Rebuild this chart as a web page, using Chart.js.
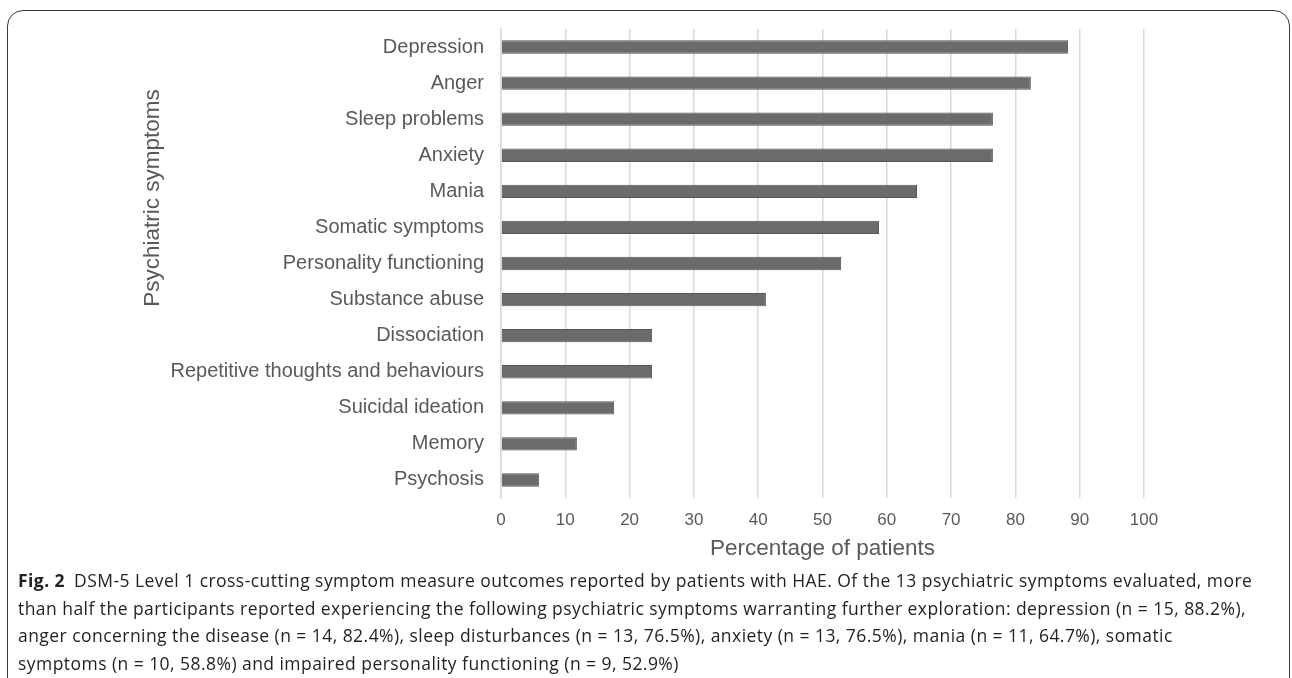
<!DOCTYPE html>
<html>
<head>
<meta charset="utf-8">
<script src="https://cdn.jsdelivr.net/npm/chart.js@4.4.1/dist/chart.umd.min.js"></script>
<style>
  html, body { margin: 0; padding: 0; background: #fff; }
  body { width: 1292px; height: 678px; position: relative; overflow: hidden; }
  .frame {
    position: absolute; left: 7px; top: 10px; width: 1283px; height: 700px;
    border: 1.5px solid #3a3a3a; border-radius: 16px; box-sizing: border-box;
  }
  .chart-box { position: absolute; left: 0; top: 0; width: 1292px; height: 572px; }
  .caption {
    position: absolute; left: 18px; top: 567px; white-space: nowrap;
    font-family: "Open Sans", "Noto Sans", sans-serif; font-size: 17.5px;
    letter-spacing: 0.45px; line-height: 27.5px; color: #231f20;
  }
  .caption b { font-weight: 700; margin-right: 4px; }
</style>
</head>
<body>
<div class="frame"></div>
<div class="chart-box"><canvas id="symptomChart"></canvas></div>
<div class="caption">
  <b>Fig. 2</b> DSM-5 Level 1 cross-cutting symptom measure outcomes reported by patients with HAE. Of the 13 psychiatric symptoms evaluated, more<br>
  than half the participants reported experiencing the following psychiatric symptoms warranting further exploration: depression (n&nbsp;=&nbsp;15, 88.2%),<br>
  anger concerning the disease (n&nbsp;=&nbsp;14, 82.4%), sleep disturbances (n&nbsp;=&nbsp;13, 76.5%), anxiety (n&nbsp;=&nbsp;13, 76.5%), mania (n&nbsp;=&nbsp;11, 64.7%), somatic<br>
  symptoms (n&nbsp;=&nbsp;10, 58.8%) and impaired personality functioning (n&nbsp;=&nbsp;9, 52.9%)
</div>
<script>
const symptoms = [
    'Depression', 'Anger', 'Sleep problems', 'Anxiety', 'Mania',
    'Somatic symptoms', 'Personality functioning', 'Substance abuse',
    'Dissociation', 'Repetitive thoughts and behaviours', 'Suicidal ideation',
    'Memory', 'Psychosis'
];
const percentValues = [88.2, 82.4, 76.5, 76.5, 64.7, 58.8, 52.9, 41.2, 23.5, 23.5, 17.6, 11.8, 5.9];
const xTicks = [0, 10, 20, 30, 40, 50, 60, 70, 80, 90, 100];

const labelFont = 'Liberation Sans, Arial, sans-serif';

// titulo do eixo y desenhado a mao (fica acima do centro no original)
const yTitlePlugin = {
    id: 'yTitle',
    afterDraw(chart) {
        const ctx = chart.ctx;
        ctx.save();
        ctx.translate(153, 198);
        ctx.rotate(-Math.PI / 2);
        ctx.font = '22.5px ' + labelFont;
        ctx.fillStyle = '#595959';
        ctx.textAlign = 'center';
        ctx.textBaseline = 'middle';
        ctx.fillText('Psychiatric symptoms', 0, 0);
        ctx.restore();
    }
};

document.addEventListener('DOMContentLoaded', () => {
    const ctx = document.getElementById('symptomChart').getContext('2d');
    new Chart(ctx, {
        type: 'bar',
        data: {
            labels: symptoms,
            datasets: [{
                label: 'Percentage of patients',
                data: percentValues,
                backgroundColor: '#6b6b6b',
                borderColor: '#555555',
                borderWidth: 1,
                barPercentage: 0.37,
                categoryPercentage: 1.0
            }]
        },
        options: {
            indexAxis: 'y',
            responsive: true,
            maintainAspectRatio: false,
            animation: false,
            layout: { padding: { top: 26, right: 148, left: 0, bottom: 0 } },
            plugins: {
                legend: { display: false },
                tooltip: { enabled: false }
            },
            scales: {
                x: {
                    min: 0,
                    max: 100,
                    afterBuildTicks: (axis) => { axis.ticks = xTicks.map(v => ({ value: v })); },
                    afterFit: (scale) => { scale.height = 74; },
                    grid: { color: '#d9d9d9', lineWidth: 1.5, drawTicks: false },
                    border: { display: false },
                    ticks: { color: '#595959', font: { family: labelFont, size: 17 }, padding: 12 },
                    title: {
                        display: true,
                        text: 'Percentage of patients',
                        color: '#595959',
                        font: { family: labelFont, size: 22.5 },
                        padding: { top: 0, bottom: 10 }
                    }
                },
                y: {
                    afterFit: (scale) => { scale.width = 501; },
                    grid: { display: false, drawTicks: false },
                    border: { display: true, color: '#d9d9d9', width: 1.5 },
                    ticks: { color: '#595959', font: { family: labelFont, size: 20 }, padding: 17 }
                }
            }
        },
        plugins: [yTitlePlugin]
    });
});
</script>
</body>
</html>
